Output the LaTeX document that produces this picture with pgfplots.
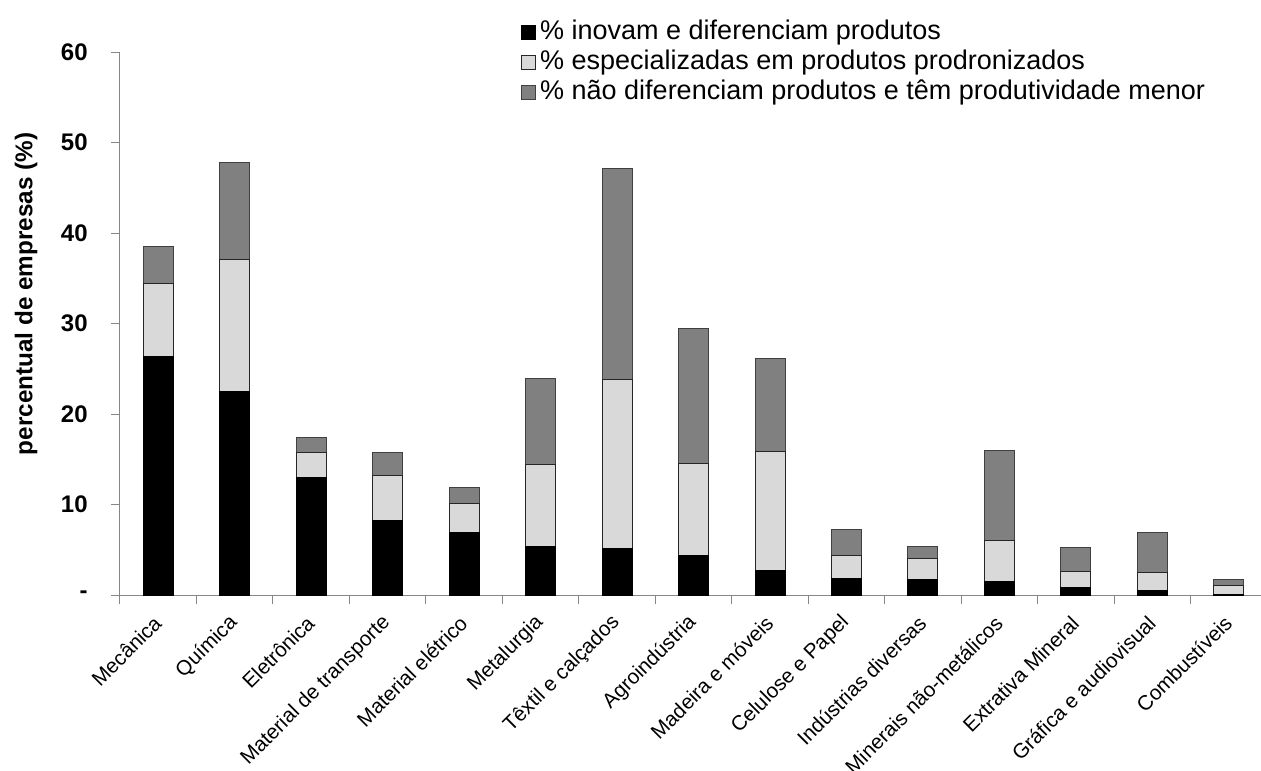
\documentclass[border=0pt]{standalone}
\usepackage{fontspec}
\setmainfont{Liberation Sans}
\usepackage{pgfplots}
\pgfplotsset{compat=1.18}
\usepackage{pgfplotstable}
\definecolor{lightg}{RGB}{217,217,217}
\definecolor{midg}{RGB}{128,128,128}
\definecolor{axg}{RGB}{134,134,134}
\pgfplotstableread{
x a b c
0 26.3 8.1 4.1
1 22.5 14.6 10.7
2 13.0 2.8 1.6
3 8.2 5.0 2.5
4 6.9 3.2 1.8
5 5.4 9.0 9.5
6 5.1 18.7 23.3
7 4.4 10.1 15.0
8 2.7 13.2 10.2
9 1.85 2.5 2.85
10 1.7 2.35 1.3
11 1.45 4.6 9.9
12 0.85 1.8 2.55
13 0.45 2.05 4.4
14 0.1 0.9 0.7
}\data
\begin{document}
\begin{tikzpicture}
\path[use as bounding box] (-90pt,-132pt) rectangle (855.75pt,446.25pt);
\begin{axis}[
  at={(0,0)}, anchor=south west,
  scale only axis, width=855.75pt, height=407.25pt,
  ybar stacked, bar width=22.5pt,
  enlargelimits=false,
  xmin=-0.5, xmax=14.42, ymin=0, ymax=60,
  axis lines*=left,
  axis line style={draw=axg, line width=0.75pt},
  every tick/.style={draw=axg, line width=0.75pt},
  tick align=outside,
  major tick length=6.75pt,
  ytick={0,10,...,60},
  yticklabels={-,10,20,30,40,50,60},
  yticklabel style={font=\fontsize{18}{20}\selectfont\bfseries, xshift=-14pt},
  xtick={-0.5,0.5,...,13.5},
  xticklabels={},
  extra x ticks={0,...,14},
  extra x tick labels={Mecânica,Química,Eletrônica,Material de transporte,Material elétrico,Metalurgia,Têxtil e calçados,Agroindústria,Madeira e móveis,Celulose e Papel,Indústrias diversas,Minerais não-metálicos,Extrativa Mineral,Gráfica e audiovisual,Combustíveis},
  extra x tick style={major tick length=0pt, xticklabel style={font=\fontsize{15.5}{17}\selectfont, yshift=-16pt, xshift=2pt, rotate=45, anchor=east}},
  ylabel={percentual de empresas (\%)},
  ylabel style={font=\fontsize{18.2}{20}\selectfont\bfseries, at={(axis description cs:-0.0824,0.5543)}, anchor=center},
  legend style={at={(0.3514,1.0626)}, anchor=north west, draw=none, fill=none, inner sep=0pt, row sep=0.5pt, column sep=2pt, font=\fontsize{20.25}{22}\selectfont, nodes={inner sep=1pt, text height=15pt, text depth=5pt}},
  legend cell align=left,
  legend image code/.code={\draw[#1, line width=0.75pt] (0pt,-5.25pt) rectangle (10.5pt,5.25pt);},
]
\addplot[fill=black, draw=black, line width=0.75pt] table[x=x,y=a]{\data};
\addlegendentry{\% inovam e diferenciam produtos}
\addplot[fill=lightg, draw=black!85, line width=0.75pt] table[x=x,y=b]{\data};
\addlegendentry{\% especializadas em produtos prodronizados}
\addplot[fill=midg, draw=black!75, line width=0.75pt] table[x=x,y=c]{\data};
\addlegendentry{\% não diferenciam produtos e têm produtividade menor}
\end{axis}
\end{tikzpicture}
\end{document}
